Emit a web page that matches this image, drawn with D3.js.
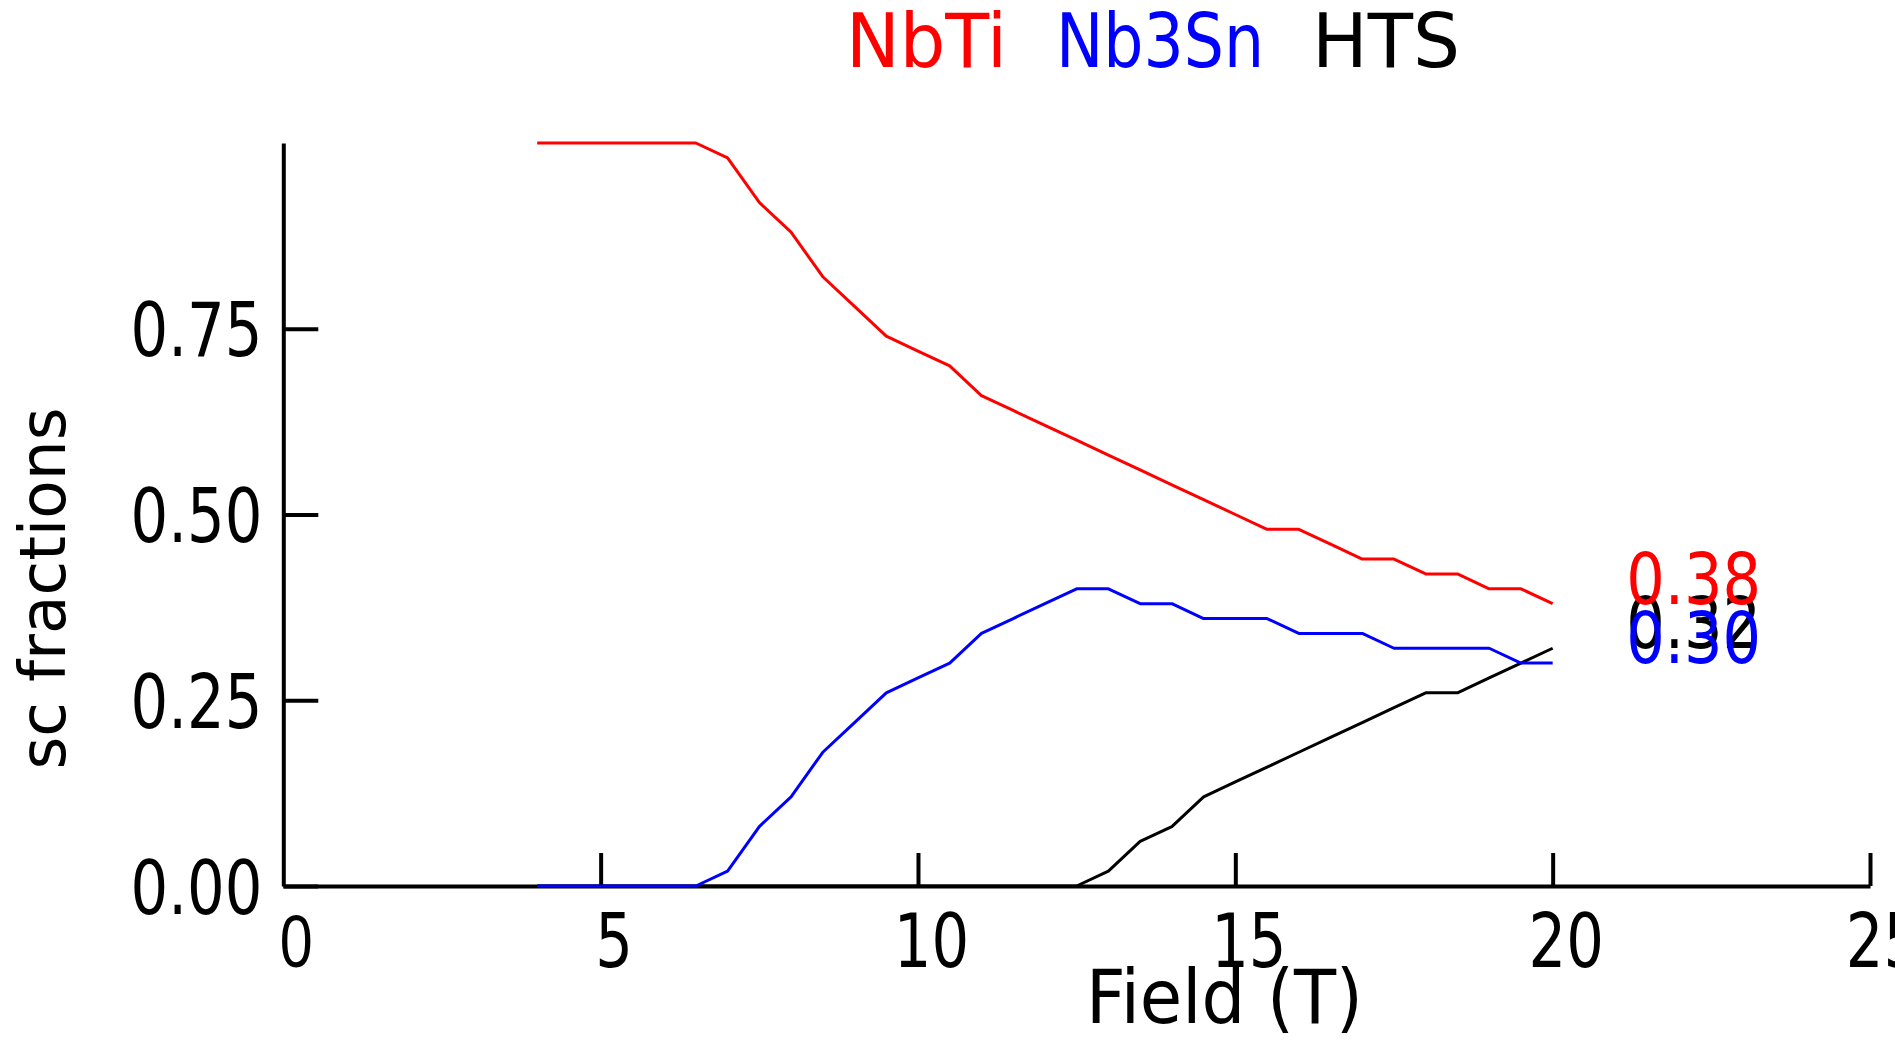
<!DOCTYPE html>
<html>
<head>
<meta charset="utf-8">
<script src="https://cdn.jsdelivr.net/npm/d3@7"></script>
<style>
  html, body { margin: 0; padding: 0; background: #fff; }
  svg { display: block; font-family: "DejaVu Sans", sans-serif; }
</style>
</head>
<body>
<svg id="chart" width="1895" height="1042"></svg>
<script>
// Field values (T), sampled every 0.5 T
const field = [4, 4.5, 5, 5.5, 6, 6.5, 7, 7.5, 8, 8.5, 9, 9.5, 10, 10.5, 11, 11.5,
               12, 12.5, 13, 13.5, 14, 14.5, 15, 15.5, 16, 16.5, 17, 17.5, 18, 18.5,
               19, 19.5, 20];
// Superconductor fractions at each field value
const nbti  = [1, 1, 1, 1, 1, 1, 0.98, 0.92, 0.88, 0.82, 0.78, 0.74, 0.72, 0.70, 0.66, 0.64,
               0.62, 0.60, 0.58, 0.56, 0.54, 0.52, 0.50, 0.48, 0.48, 0.46, 0.44, 0.44, 0.42, 0.42,
               0.40, 0.40, 0.38];
const nb3sn = [0, 0, 0, 0, 0, 0, 0.02, 0.08, 0.12, 0.18, 0.22, 0.26, 0.28, 0.30, 0.34, 0.36,
               0.38, 0.40, 0.40, 0.38, 0.38, 0.36, 0.36, 0.36, 0.34, 0.34, 0.34, 0.32, 0.32, 0.32,
               0.32, 0.30, 0.30];
const hts   = [0, 0, 0, 0, 0, 0, 0, 0, 0, 0, 0, 0, 0, 0, 0, 0,
               0, 0, 0.02, 0.06, 0.08, 0.12, 0.14, 0.16, 0.18, 0.20, 0.22, 0.24, 0.26, 0.26,
               0.28, 0.30, 0.32];
const seriesNames  = ["NbTi", "Nb3Sn", "HTS"];
const seriesColors = ["#ff0000", "#0000ff", "#000000"];
const xTicks = [5, 10, 15, 20, 25];
const yTicks = [0, 0.25, 0.5, 0.75];

const svg = d3.select("#chart");
const x = d3.scaleLinear().domain([0, 25]).range([283.3, 1870]);
const y = d3.scaleLinear().domain([0, 1]).range([886, 143]);

// Axes: ticks point inward
const xAxis = d3.axisBottom(x).tickValues(xTicks).tickFormat(d3.format("d"))
  .tickSizeInner(-33).tickSizeOuter(0);
const yAxis = d3.axisLeft(y).tickValues(yTicks).tickFormat(d3.format(".2f"))
  .tickSizeInner(-35).tickSizeOuter(0);

const gx = svg.append("g").attr("transform", `translate(0,${y(0)})`).call(xAxis);
const gy = svg.append("g").attr("transform", `translate(${x(0)},0)`).call(yAxis);

[gx, gy].forEach(g => {
  g.selectAll("path.domain").attr("stroke", "#000").attr("stroke-width", 4);
  g.selectAll(".tick line").attr("stroke", "#000").attr("stroke-width", 4);
  g.selectAll(".tick text")
    .attr("fill", "#000").attr("font-size", 74).attr("font-family", "DejaVu Sans")
    .attr("x", 0).attr("y", 0).attr("dy", null);
});
// x tick labels sit just right of their tick, under the axis
gx.selectAll(".tick text").attr("text-anchor", "middle")
  .attr("transform", "translate(13,81) scale(0.8,1)");
// the 0 label on the x axis
gx.append("text").text("0").attr("fill", "#000").attr("font-size", 74)
  .attr("text-anchor", "middle")
  .attr("transform", `translate(${x(0) + 13},81) scale(0.8,1)`);
gy.selectAll(".tick text").attr("text-anchor", "end")
  .attr("transform", "translate(-21,27) scale(0.8,1)");

// Lines
const line = d3.line().x(d => x(d[0])).y(d => y(d[1]));
const series = [nbti, nb3sn, hts];
const drawOrder = [2, 1, 0];
drawOrder.forEach(i => {
  svg.append("path")
    .datum(field.map((f, k) => [f, series[i][k]]))
    .attr("d", line)
    .attr("fill", "none")
    .attr("stroke", seriesColors[i])
    .attr("stroke-width", 3)
    .attr("stroke-linejoin", "round");
});

// End-value labels, baseline at the last value
[2, 0, 1].forEach(i => {
  const v = series[i][series[i].length - 1];
  svg.append("text")
    .attr("x", x(21) + 10).attr("y", y(v))
    .attr("font-size", 71)
    .attr("fill", seriesColors[i])
    .attr("textLength", 135).attr("lengthAdjust", "spacingAndGlyphs")
    .text(d3.format(".2f")(v));
});

// Legend row across the top
const legendPos = [{x: 846, w: 161}, {x: 1056, w: 208}, {x: 1312, w: 148}];
seriesNames.forEach((name, i) => {
  svg.append("text")
    .attr("x", legendPos[i].x).attr("y", 67)
    .attr("font-size", 75)
    .attr("fill", seriesColors[i])
    .attr("textLength", legendPos[i].w).attr("lengthAdjust", "spacingAndGlyphs")
    .text(name);
});

// Axis titles
svg.append("text")
  .attr("x", 1086).attr("y", 1023)
  .attr("font-size", 75).attr("fill", "#000")
  .attr("textLength", 277).attr("lengthAdjust", "spacingAndGlyphs")
  .text("Field (T)");

svg.append("text")
  .attr("transform", "translate(65,588.5) rotate(-90)")
  .attr("text-anchor", "middle")
  .attr("font-size", 64).attr("fill", "#000")
  .attr("textLength", 362).attr("lengthAdjust", "spacingAndGlyphs")
  .text("sc fractions");
</script>
</body>
</html>
